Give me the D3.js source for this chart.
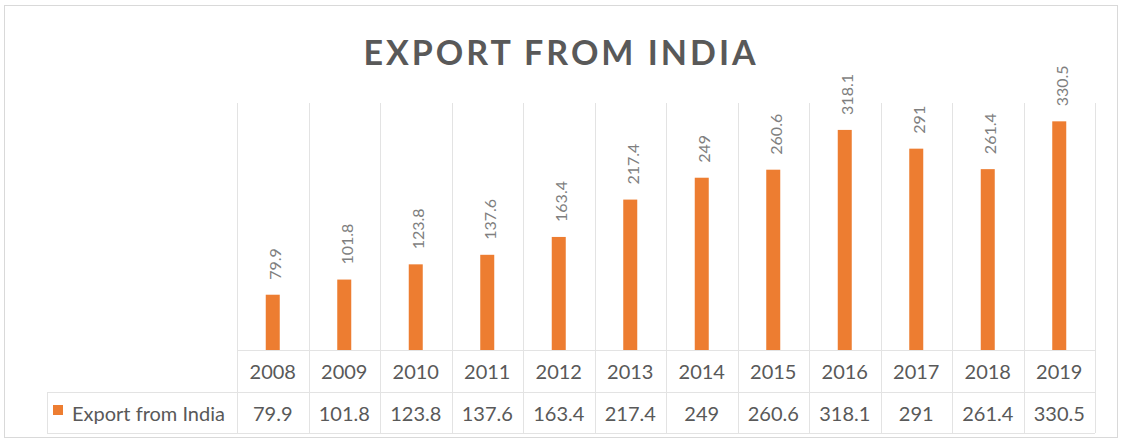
<!DOCTYPE html>
<html>
<head>
<meta charset="utf-8">
<script src="https://cdn.jsdelivr.net/npm/d3@7"></script>
<style>
  html, body { margin: 0; padding: 0; background: #fff; }
  #chart { width: 1121px; height: 441px; }
</style>
</head>
<body>
<div id="chart"></div>
<script>
  const years = ["2008", "2009", "2010", "2011", "2012", "2013", "2014", "2015", "2016", "2017", "2018", "2019"];
  const exportValues = [79.9, 101.8, 123.8, 137.6, 163.4, 217.4, 249, 260.6, 318.1, 291, 261.4, 330.5];
  const seriesName = "Export from India";
  const chartTitle = "EXPORT FROM INDIA";

  const width = 1121, height = 441;
  const plot = { left: 237, right: 1095, top: 103, bottom: 350 };
  const rowYear = { top: 350, bottom: 392 };
  const rowValue = { top: 392, bottom: 433 };
  const legendLeft = 47;
  const font = "Lato, 'Open Sans', sans-serif";
  const textColor = "#595959";
  const gridColor = "#e3e3e3";
  const barColor = "#ED7D31";

  const svg = d3.select("#chart").append("svg")
    .attr("width", width)
    .attr("height", height);

  // outer chart frame
  svg.append("rect")
    .attr("x", 4.5).attr("y", 5.5)
    .attr("width", 1113).attr("height", 432)
    .attr("fill", "#fff")
    .attr("stroke", "#d9d9d9");

  const x = d3.scaleBand()
    .domain(years)
    .range([plot.left, plot.right]);

  const y = d3.scaleLinear()
    .domain([0, 357])
    .range([plot.bottom, plot.top]);

  // vertical grid / table lines
  const bounds = years.map(d => x(d)).concat([plot.right]);
  svg.append("g").selectAll("line")
    .data(bounds)
    .join("line")
    .attr("x1", d => Math.round(d) + 0.5)
    .attr("x2", d => Math.round(d) + 0.5)
    .attr("y1", plot.top)
    .attr("y2", rowValue.bottom)
    .attr("stroke", gridColor);

  // horizontal table lines
  const hLines = [
    { y: rowYear.top, x1: plot.left, x2: plot.right },
    { y: rowValue.top, x1: legendLeft, x2: plot.right },
    { y: rowValue.bottom, x1: legendLeft, x2: plot.right }
  ];
  svg.append("g").selectAll("line")
    .data(hLines)
    .join("line")
    .attr("x1", d => d.x1)
    .attr("x2", d => d.x2)
    .attr("y1", d => d.y + 0.5)
    .attr("y2", d => d.y + 0.5)
    .attr("stroke", gridColor);

  svg.append("line")
    .attr("x1", legendLeft + 0.5).attr("x2", legendLeft + 0.5)
    .attr("y1", rowValue.top).attr("y2", rowValue.bottom)
    .attr("stroke", gridColor);

  // bars
  const barW = 14;
  svg.append("g").selectAll("rect")
    .data(exportValues)
    .join("rect")
    .attr("x", (d, i) => x(years[i]) + x.bandwidth() / 2 - barW / 2)
    .attr("y", d => y(d))
    .attr("width", barW)
    .attr("height", d => y(0) - y(d))
    .attr("fill", barColor);

  // rotated data labels
  svg.append("g").selectAll("text")
    .data(exportValues)
    .join("text")
    .attr("transform", (d, i) => {
      const cx = x(years[i]) + x.bandwidth() / 2 + 2;
      return `translate(${cx},${y(d) - 15}) rotate(-90)`;
    })
    .attr("text-anchor", "start")
    .attr("dominant-baseline", "central")
    .attr("font-family", font)
    .attr("font-size", 16)
    .attr("fill", "#7f7f7f")
    .text(d => d);

  // year row
  svg.append("g").selectAll("text")
    .data(years)
    .join("text")
    .attr("x", d => x(d) + x.bandwidth() / 2)
    .attr("y", (rowYear.top + rowYear.bottom) / 2)
    .attr("text-anchor", "middle")
    .attr("dominant-baseline", "central")
    .attr("font-family", font)
    .attr("font-size", 20)
    .attr("fill", textColor)
    .text(d => d);

  // value row
  svg.append("g").selectAll("text")
    .data(exportValues)
    .join("text")
    .attr("x", (d, i) => x(years[i]) + x.bandwidth() / 2)
    .attr("y", (rowValue.top + rowValue.bottom) / 2)
    .attr("text-anchor", "middle")
    .attr("dominant-baseline", "central")
    .attr("font-family", font)
    .attr("font-size", 20)
    .attr("fill", textColor)
    .text(d => d);

  // legend key in table
  svg.append("rect")
    .attr("x", 53).attr("y", 405)
    .attr("width", 10).attr("height", 10)
    .attr("fill", barColor);

  svg.append("text")
    .attr("x", 72)
    .attr("y", (rowValue.top + rowValue.bottom) / 2)
    .attr("dominant-baseline", "central")
    .attr("font-family", font)
    .attr("font-size", 20)
    .attr("fill", textColor)
    .text(seriesName);

  // title
  svg.append("text")
    .attr("x", 561)
    .attr("y", 65)
    .attr("text-anchor", "middle")
    .attr("font-family", font)
    .attr("font-size", 34)
    .attr("font-weight", 700)
    .attr("letter-spacing", 3)
    .attr("fill", textColor)
    .text(chartTitle);
</script>
</body>
</html>
